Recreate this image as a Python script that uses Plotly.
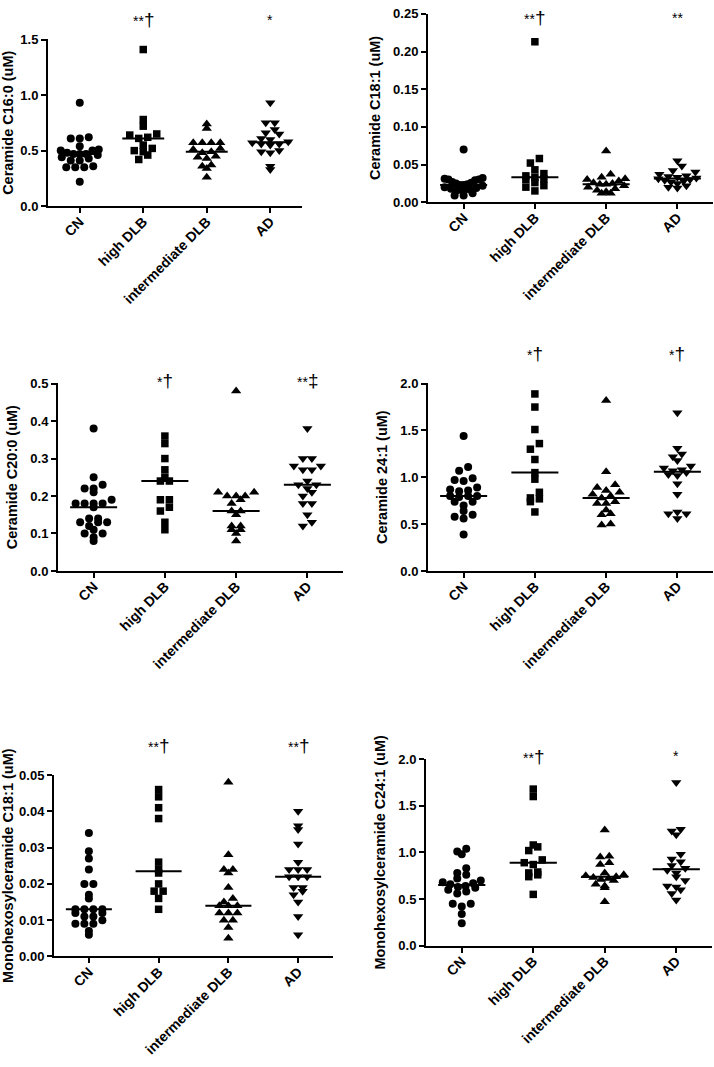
import numpy as np
import plotly.graph_objects as go

categories = ["CN", "high DLB", "intermediate DLB", "AD"]

# ---------------- data ----------------
c160_cn = [0.93, 0.62, 0.61, 0.61, 0.54, 0.51, 0.50, 0.50, 0.48, 0.47, 0.47, 0.47, 0.46, 0.44,
           0.43, 0.41, 0.41, 0.36, 0.35, 0.35, 0.35, 0.22]
c160_high = [1.41, 0.78, 0.72, 0.65, 0.64, 0.62, 0.61, 0.55, 0.52, 0.50, 0.49, 0.46, 0.42]
c160_inter = [0.74, 0.70, 0.57, 0.57, 0.57, 0.57, 0.52, 0.51, 0.49, 0.48, 0.45, 0.44, 0.43,
              0.37, 0.36, 0.34, 0.26]
c160_ad = [0.93, 0.75, 0.75, 0.69, 0.66, 0.65, 0.61, 0.60, 0.58, 0.57, 0.56, 0.56, 0.55,
           0.50, 0.49, 0.48, 0.36, 0.33]

c181_cn = [0.070, 0.032, 0.031, 0.030, 0.030, 0.029, 0.027, 0.026, 0.025, 0.024, 0.023,
           0.023, 0.022, 0.020, 0.019, 0.018, 0.017, 0.016, 0.015, 0.012, 0.009, 0.009]
c181_high = [0.213, 0.058, 0.052, 0.043, 0.038, 0.035, 0.033, 0.031, 0.030, 0.026, 0.022,
             0.020, 0.015]
c181_inter = [0.068, 0.037, 0.033, 0.031, 0.030, 0.028, 0.026, 0.025, 0.024, 0.024, 0.022,
              0.020, 0.018, 0.016, 0.014, 0.012, 0.012]
c181_ad = [0.055, 0.048, 0.042, 0.040, 0.037, 0.035, 0.034, 0.033, 0.032, 0.031, 0.030,
           0.029, 0.028, 0.027, 0.025, 0.022, 0.020, 0.019]

c200_cn = [0.38, 0.25, 0.23, 0.22, 0.22, 0.21, 0.19, 0.18, 0.18, 0.18, 0.18, 0.17, 0.14,
           0.14, 0.13, 0.13, 0.13, 0.12, 0.11, 0.10, 0.10, 0.09, 0.08]
c200_high = [0.36, 0.34, 0.30, 0.27, 0.25, 0.24, 0.24, 0.19, 0.19, 0.17, 0.16, 0.13, 0.11]
c200_inter = [0.48, 0.21, 0.21, 0.20, 0.20, 0.20, 0.19, 0.18, 0.16, 0.16, 0.15, 0.12, 0.12,
              0.11, 0.11, 0.10, 0.08]
c200_ad = [0.38, 0.30, 0.30, 0.28, 0.28, 0.27, 0.27, 0.24, 0.23, 0.23, 0.22, 0.21, 0.20,
           0.18, 0.18, 0.15, 0.13, 0.12]

c241_cn = [1.44, 1.11, 1.07, 0.99, 0.97, 0.96, 0.89, 0.87, 0.86, 0.85, 0.80, 0.80, 0.80,
           0.79, 0.74, 0.74, 0.70, 0.64, 0.60, 0.58, 0.56, 0.39]
c241_high = [1.89, 1.75, 1.51, 1.36, 1.30, 1.19, 1.05, 0.98, 0.84, 0.78, 0.77, 0.74, 0.63]
c241_inter = [1.82, 1.06, 0.92, 0.89, 0.86, 0.84, 0.82, 0.80, 0.78, 0.74, 0.72, 0.72, 0.65,
              0.61, 0.60, 0.50, 0.49]
c241_ad = [1.69, 1.31, 1.25, 1.22, 1.18, 1.12, 1.10, 1.08, 1.07, 1.05, 1.03, 1.02, 0.93,
           0.82, 0.63, 0.61, 0.61, 0.56]

mh181_cn = [0.034, 0.029, 0.027, 0.024, 0.020, 0.020, 0.017, 0.016, 0.013, 0.013, 0.013,
            0.013, 0.012, 0.012, 0.011, 0.011, 0.010, 0.009, 0.009, 0.009, 0.007, 0.006]
mh181_high = [0.046, 0.044, 0.041, 0.038, 0.026, 0.024, 0.023, 0.020, 0.018, 0.018, 0.016,
              0.013]
mh181_inter = [0.048, 0.028, 0.024, 0.024, 0.023, 0.019, 0.016, 0.015, 0.014, 0.014, 0.014,
               0.012, 0.012, 0.012, 0.010, 0.010, 0.008, 0.005]
mh181_ad = [0.040, 0.036, 0.035, 0.031, 0.026, 0.024, 0.024, 0.024, 0.022, 0.022, 0.022,
            0.019, 0.019, 0.018, 0.017, 0.015, 0.011, 0.006]

mh241_cn = [1.04, 1.01, 0.98, 0.83, 0.78, 0.76, 0.72, 0.70, 0.68, 0.67, 0.66, 0.64, 0.63,
            0.62, 0.60, 0.58, 0.56, 0.45, 0.45, 0.42, 0.34, 0.24]
mh241_high = [1.68, 1.60, 1.08, 1.06, 1.02, 0.92, 0.89, 0.87, 0.79, 0.78, 0.76, 0.74, 0.55]
mh241_inter = [1.24, 0.96, 0.95, 0.89, 0.87, 0.78, 0.76, 0.75, 0.74, 0.73, 0.72, 0.71, 0.70,
               0.66, 0.64, 0.62, 0.47]
mh241_ad = [1.75, 1.25, 1.23, 1.19, 0.98, 0.93, 0.90, 0.86, 0.83, 0.81, 0.78, 0.74, 0.70,
            0.64, 0.63, 0.60, 0.56, 0.49]

y_titles = ["Ceramide C16:0 (uM)", "Ceramide C18:1 (uM)", "Ceramide C20:0 (uM)",
            "Ceramide 24:1 (uM)", "Monohexosylceramide C18:1 (uM)",
            "Monohexosylceramide C24:1 (uM)"]
y_max = [1.5, 0.25, 0.5, 2.0, 0.05, 2.0]
y_dtick = [0.5, 0.05, 0.1, 0.5, 0.01, 0.5]
y_format = [".1f", ".2f", ".1f", ".1f", ".2f", ".1f"]

# significance marks: (panel, category index, stars, dagger, y in data units)
sig_marks = [
    (0, 1, "**", "†", 1.65), (0, 3, "*", "", 1.65),
    (1, 1, "**", "†", 0.241), (1, 3, "**", "", 0.241),
    (2, 1, "*", "†", 0.50), (2, 3, "**", "‡", 0.50),
    (3, 1, "*", "†", 2.29), (3, 3, "*", "†", 2.29),
    (4, 1, "**", "†", 0.0573), (4, 3, "**", "†", 0.0573),
    (5, 1, "**", "†", 2.00), (5, 3, "*", "", 2.00),
]

panels = [
    [c160_cn, c160_high, c160_inter, c160_ad],
    [c181_cn, c181_high, c181_inter, c181_ad],
    [c200_cn, c200_high, c200_inter, c200_ad],
    [c241_cn, c241_high, c241_inter, c241_ad],
    [mh181_cn, mh181_high, mh181_inter, mh181_ad],
    [mh241_cn, mh241_high, mh241_inter, mh241_ad],
]

# ---------------- layout geometry (pixels) ----------------
W, H = 714, 1067
# left, right, bottom, top
geom = [
    (48, 302, 202, 33),
    (428, 713, 198, 7),
    (58, 343, 572, 382),
    (428, 713, 572, 382),
    (54, 333, 963, 779),
    (426, 712, 952, 763),
]
symbols = ["circle", "square", "triangle-up", "triangle-down"]
msizes = [8, 7.5, 9, 9]
FONT = "Liberation Sans, Arial, sans-serif"
ROW_H = 7.0     # px height of a scatter row
DX = 9.0        # px spacing of points within a row
MAX_HALF = 19.0  # px max half width of a column


def scatter_offsets(vals, px_per_unit):
    """Prism-like column scatter: bin by row, spread symmetrically within a row."""
    y = np.asarray(vals, dtype=float) * px_per_unit
    rows = np.round(y / ROW_H).astype(int)
    offs = np.zeros(len(y))
    for r in np.unique(rows):
        idx = np.where(rows == r)[0]
        idx = idx[np.argsort(y[idx], kind="stable")]
        n = len(idx)
        if n == 1:
            continue
        dx = min(DX, 2 * MAX_HALF / (n - 1))
        pos = (np.arange(n) - (n - 1) / 2.0) * dx
        order = np.argsort(np.abs(pos) + 1e-3 * pos, kind="stable")
        for k, i in enumerate(idx):
            offs[i] = pos[order[k]]
    return offs


fig = go.Figure()
layout = dict(width=W, height=H, margin=dict(l=0, r=0, t=0, b=0),
              paper_bgcolor="white", plot_bgcolor="white", showlegend=False,
              font=dict(family=FONT, color="black"))
annotations = []
ydom = []

for p, groups in enumerate(panels):
    L, R, B, T = geom[p]
    sfx = "" if p == 0 else str(p + 1)
    px_unit = (B - T) / y_max[p]
    px_cat = (R - L) / 4.0
    for g, vals in enumerate(groups):
        offs = scatter_offsets(vals, px_unit) / px_cat
        fig.add_trace(go.Scatter(
            x=g + offs, y=vals, mode="markers",
            marker=dict(symbol=symbols[g], size=msizes[g], color="black",
                        line=dict(width=0)),
            xaxis="x" + sfx, yaxis="y" + sfx, cliponaxis=False, hoverinfo="y"))
        med = float(np.median(vals))
        fig.add_trace(go.Scatter(
            x=[g - 0.33, g + 0.33], y=[med, med], mode="lines",
            line=dict(color="black", width=2),
            xaxis="x" + sfx, yaxis="y" + sfx, hoverinfo="skip"))
    top = y_max[p] * 1.001
    d0 = 1 - B / H
    dh = (B - T) / H * (top / y_max[p])
    ydom.append((d0, dh, top))
    layout["xaxis" + sfx] = dict(
        domain=[L / W, R / W], anchor="y" + sfx, range=[-0.5, 3.5],
        tickvals=[0, 1, 2, 3], ticktext=categories, tickangle=-45,
        showline=True, linecolor="black", linewidth=2, ticks="outside",
        ticklen=5, tickwidth=2, tickcolor="black", showgrid=False, zeroline=False,
        ticklabelstandoff=-5,
        tickfont=dict(family=FONT, size=14, color="black", weight="bold"),
        fixedrange=True)
    layout["yaxis" + sfx] = dict(
        domain=[d0, d0 + dh], anchor="x" + sfx, range=[0, top],
        tick0=0, dtick=y_dtick[p], tickformat=y_format[p],
        showline=True, linecolor="black", linewidth=2, ticks="outside",
        ticklen=5, tickwidth=2, tickcolor="black", showgrid=False, zeroline=False,
        tickfont=dict(family=FONT, size=13, color="black", weight="bold"),
        title=dict(text=y_titles[p], standoff=9,
                   font=dict(family=FONT, size=14.5, color="black", weight="bold")),
        fixedrange=True)

SIG_SHIFT = 3.0 / H
for p, g, stars, dag, yv in sig_marks:
    sfx = "" if p == 0 else str(p + 1)
    d0, dh, top = ydom[p]
    txt = '<span style="font-size:14px">' + stars + '</span>' + dag
    annotations.append(dict(x=g, y=d0 + dh * yv / top + SIG_SHIFT,
                            xref="x" + sfx, yref="paper", text=txt,
                            showarrow=False, xanchor="center", yanchor="middle",
                            font=dict(family=FONT, size=19, color="black")))

layout["annotations"] = annotations
fig.update_layout(**layout)
fig.write_html(
    "out.html",
    config={"displayModeBar": False},
    post_script="document.body.style.margin='0';document.body.style.overflow='hidden';")
